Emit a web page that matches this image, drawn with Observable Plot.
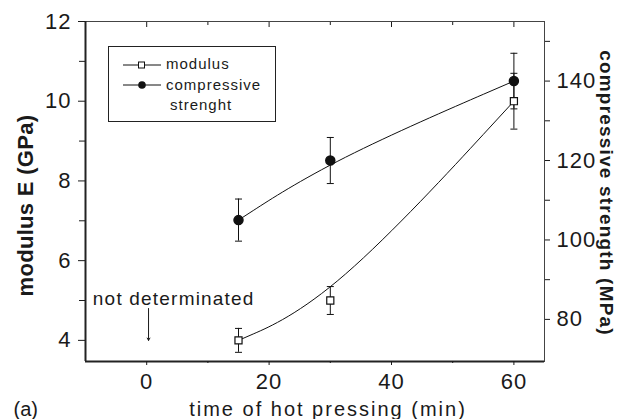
<!DOCTYPE html>
<html>
<head>
<meta charset="utf-8">
<script src="https://cdn.jsdelivr.net/npm/d3@7"></script>
<script src="https://cdn.jsdelivr.net/npm/@observablehq/plot@0.6"></script>
<style>
  body { margin: 0; background: #fff; }
  #wrap { position: relative; width: 618px; height: 419px; overflow: hidden;
          font-family: "Liberation Sans", Arial, sans-serif; color: #1a1a1a; }
  #wrap svg text { fill: #1a1a1a; }
  .legend { position: absolute; border: 1.3px solid #222; box-sizing: border-box; background: #fff; }
  .legend .item { position: absolute; font-size: 15px; letter-spacing: 1px; line-height: 1; white-space: nowrap; }
  .legend svg { position: absolute; overflow: visible; }
</style>
</head>
<body>
<div id="wrap"></div>
<script>
// ---- data ----
const times = [15, 30, 60];                  // time of hot pressing (min)
const modulus = [4.0, 5.0, 10.0];            // modulus E (GPa)
const modulusErr = [0.3, 0.35, 0.7];
const strength = [105, 120, 140];            // compressive strength (MPa)
const strengthErr = [5.3, 5.8, 7.0];

const xDomain = [-10, 65];
const yDomain = [3.47, 12];                  // left axis (GPa)
const y2Domain = [69.4, 155];                // right axis (MPa)
const xTicks = [0, 20, 40, 60];
const xMinorTicks = [10, 30, 50];
const yTicks = [4, 6, 8, 10, 12];
const yMinorTicks = [5, 7, 9, 11];
const y2Ticks = [80, 100, 120, 140];
const y2MinorTicks = [90, 110, 130, 150];

const noteText = ["not determinated"];
const noteLabelX = [-8.8];
const noteLabelY = [5.03];
const noteArrowX = [0.3];
const noteArrowFrom = [4.8];
const noteArrowTo = [4.0];

// ---- secondary axis mapping (MPa -> GPa axis units) ----
const toLeft = d3.scaleLinear().domain(y2Domain).range(yDomain);

const modRows = times.map((t, i) => ({t, v: modulus[i], lo: modulus[i] - modulusErr[i], hi: modulus[i] + modulusErr[i]}));
const strRows = times.map((t, i) => ({t, v: toLeft(strength[i]), lo: toLeft(strength[i] - strengthErr[i]), hi: toLeft(strength[i] + strengthErr[i])}));
const noteRows = noteText.map((s, i) => ({s, x: noteLabelX[i], y: noteLabelY[i], ax: noteArrowX[i], a1: noteArrowFrom[i], a2: noteArrowTo[i]}));

const capSymbol = {draw(ctx, size) { const w = Math.sqrt(size / Math.PI); ctx.moveTo(-w, 0); ctx.lineTo(w, 0); }};
const blank = () => "";

const xTitle = "time of hot pressing (min)";
const yTitle = "modulus E (GPa)";
const y2Title = "compressive strength (MPa)";

const chart = Plot.plot({
  width: 618, height: 419,
  marginLeft: 85, marginRight: 74, marginTop: 21, marginBottom: 58,
  style: {fontFamily: "Liberation Sans, Arial, sans-serif", background: "white", color: "#1a1a1a"},
  x: {domain: xDomain},
  y: {domain: yDomain},
  marks: [
    Plot.frame({stroke: "#444", strokeWidth: 1}),
    Plot.ruleX([xDomain[0]], {stroke: "#222", strokeWidth: 2}),
    Plot.ruleY([yDomain[0]], {stroke: "#222", strokeWidth: 2}),

    Plot.axisX(xTicks, {anchor: "bottom", tickSize: 4, tickPadding: 8, fontSize: 22, label: null}),
    Plot.axisX(xMinorTicks, {anchor: "bottom", tickSize: 2, tickFormat: blank, label: null}),
    Plot.axisX(xTicks, {anchor: "top", tickSize: -5, tickFormat: blank, label: null}),
    Plot.axisX(xMinorTicks, {anchor: "top", tickSize: -3, tickFormat: blank, label: null}),

    Plot.axisY(yTicks, {anchor: "left", tickSize: 7, tickPadding: 7, fontSize: 22, label: null}),
    Plot.axisY(yMinorTicks, {anchor: "left", tickSize: 6, tickFormat: blank, label: null}),
    Plot.axisY(y2Ticks.map(toLeft), {anchor: "right", tickSize: 5, tickPadding: 7, fontSize: 22,
      tickFormat: d => String(Math.round(toLeft.invert(d))), label: null}),
    Plot.axisY(y2MinorTicks.map(toLeft), {anchor: "right", tickSize: 5, tickFormat: blank, label: null}),

    // axis titles
    Plot.text([xTitle], {frameAnchor: "bottom", textAnchor: "middle", dx: 13, dy: 40.7, lineAnchor: "top",
      fontSize: 20, fill: "#1a1a1a"}),
    Plot.text([yTitle], {frameAnchor: "left", textAnchor: "middle", rotate: -90, dx: -60, dy: 14, lineAnchor: "middle",
      fontSize: 22, fontWeight: "bold", fill: "#1a1a1a"}),
    Plot.text([y2Title], {frameAnchor: "right", textAnchor: "middle", rotate: 90, dx: 61.5, dy: 1.5, lineAnchor: "middle",
      fontSize: 19, fontWeight: "bold", fill: "#1a1a1a"}),
    Plot.text(["(a)"], {frameAnchor: "bottom-left", dx: -72, dy: 40.7, lineAnchor: "top", textAnchor: "start",
      fontSize: 20, fill: "#1a1a1a"}),

    // annotation
    Plot.text(noteRows, {x: "x", y: "y", text: "s", textAnchor: "start", lineAnchor: "middle", fontSize: 19, fill: "#1a1a1a"}),
    Plot.arrow(noteRows, {x1: "ax", x2: "ax", y1: "a1", y2: "a2", stroke: "#1a1a1a", strokeWidth: 1, headLength: 4}),

    // error bars
    Plot.ruleX(modRows, {x: "t", y1: "lo", y2: "hi", stroke: "#111", strokeWidth: 1}),
    Plot.dot(modRows, {x: "t", y: "lo", symbol: capSymbol, r: 3.5, stroke: "#111", strokeWidth: 1}),
    Plot.dot(modRows, {x: "t", y: "hi", symbol: capSymbol, r: 3.5, stroke: "#111", strokeWidth: 1}),
    Plot.ruleX(strRows, {x: "t", y1: "lo", y2: "hi", stroke: "#111", strokeWidth: 1}),
    Plot.dot(strRows, {x: "t", y: "lo", symbol: capSymbol, r: 3.5, stroke: "#111", strokeWidth: 1}),
    Plot.dot(strRows, {x: "t", y: "hi", symbol: capSymbol, r: 3.5, stroke: "#111", strokeWidth: 1}),

    // smooth curves
    Plot.line(modRows, {x: "t", y: "v", curve: "basis", stroke: "#111", strokeWidth: 1}),
    Plot.line(strRows, {x: "t", y: "v", curve: "basis", stroke: "#111", strokeWidth: 1}),

    // markers
    Plot.dot(modRows, {x: "t", y: "v", symbol: "square", r: 4, fill: "white", stroke: "#111", strokeWidth: 1.2}),
    Plot.dot(strRows, {x: "t", y: "v", symbol: "circle", r: 4.5, fill: "#111", stroke: "#111"})
  ]
});

// letter spacing tweaks
const svg = d3.select(chart);
svg.selectAll("text").each(function() {
  const t = this.textContent;
  const s = d3.select(this);
  if (t === xTitle) s.style("letter-spacing", "2px");
  else if (t === y2Title) s.style("letter-spacing", "1.2px");
  else if (t === yTitle) s.style("letter-spacing", "0.3px");
  else if (t === noteText[0]) s.style("letter-spacing", "1.2px");
  else if (/^\d+$/.test(t)) s.style("letter-spacing", "1px");
});

const wrap = document.getElementById("wrap");
wrap.appendChild(chart);

// legend overlay
const legend = document.createElement("div");
legend.className = "legend";
Object.assign(legend.style, {left: "108px", top: "46px", width: "168px", height: "76px"});
legend.innerHTML = `
  <svg style="left:14px;top:12px" width="38" height="12">
    <line x1="0" y1="6" x2="38" y2="6" stroke="#111" stroke-width="1"/>
    <rect x="15.5" y="3" width="6" height="6" fill="#fff" stroke="#111" stroke-width="1"/>
  </svg>
  <div class="item" style="left:57px;top:9px">modulus</div>
  <svg style="left:14px;top:32px" width="38" height="12">
    <line x1="0" y1="6" x2="38" y2="6" stroke="#111" stroke-width="1"/>
    <circle cx="19" cy="6" r="3.8" fill="#111"/>
  </svg>
  <div class="item" style="left:57px;top:30px">compressive</div>
  <div class="item" style="left:61px;top:50px">strenght</div>`;
wrap.appendChild(legend);
</script>
</body>
</html>
